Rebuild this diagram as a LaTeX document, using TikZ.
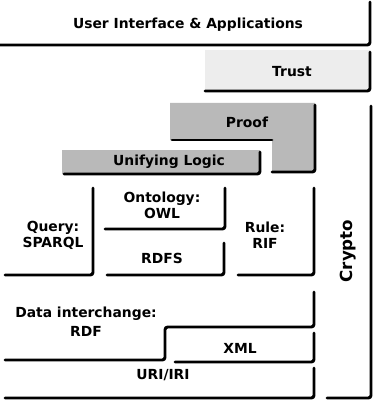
\documentclass[tikz,border=0pt]{standalone}
\usepackage{fontspec}
\setmainfont{DejaVu Sans}
\begin{document}
\begin{tikzpicture}[x=0.75pt,y=-0.75pt,
	edge/.style={line width=2.2pt,line cap=round,rounded corners=2pt},
	layer/.style={font=\bfseries\fontsize{10.4}{12}\selectfont,align=center,inner sep=0},
	light/.style={fill=gray!14},
	dark/.style={fill=gray!55}]
\useasboundingbox (0,0) rectangle (374,402);
\fill[light] (205,50) rectangle (370,91);
\fill[dark] (170,103) -- (315,103) -- (315,172) -- (272,172) -- (272,140) -- (170,140) -- cycle;
\fill[dark] (62,150) rectangle (260,174);
\draw[edge] (0,45) -- (370,45) -- (370,2);
\draw[edge] (205,91) -- (370,91) -- (370,52);
\draw[edge] (172,140) -- (272,140);
\draw[edge] (272,172) -- (315,172) -- (315,105);
\draw[edge] (64,174) -- (260,174) -- (260,152);
\draw[edge] (327,398) -- (371,398) -- (371,106);
\draw[edge] (5,275) -- (93,275) -- (93,188);
\draw[edge] (105,229) -- (225,229) -- (225,188);
\draw[edge] (107,275) -- (224,275) -- (224,243);
\draw[edge] (238,275) -- (314,275) -- (314,188);
\draw[edge] (5,360) -- (165,360) -- (165,327) -- (314,327) -- (314,292);
\draw[edge] (175,362) -- (314,362) -- (314,333);
\draw[edge] (5,398) -- (314,398) -- (314,368);
\node[layer] (ui) at (188,25) {User Interface \& Applications};
\node[layer] (trust) at (292,72) {Trust};
\node[layer] (proof) at (247,122) {Proof};
\node[layer] (logic) at (169,162) {Unifying Logic};
\node[layer,rotate=90,font=\bfseries\fontsize{12.5}{14}\selectfont] (crypto) at (348,251) {Crypto};
\node[layer] (query) at (53,235) {Query:\\SPARQL};
\node[layer] (owl) at (162,205) {Ontology:\\OWL};
\node[layer] (rdfs) at (162,258) {RDFS};
\node[layer] (rif) at (265,235) {Rule:\\RIF};
\node[layer] (rdf) at (86,322) {Data interchange:\\[2pt]RDF};
\node[layer] (xml) at (240,348) {XML};
\node[layer] (uri) at (163,375) {URI/IRI};
\end{tikzpicture}
\end{document}
